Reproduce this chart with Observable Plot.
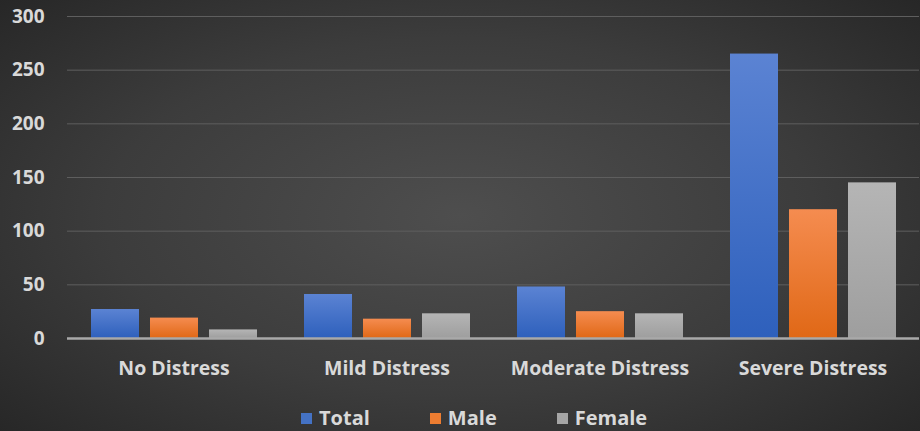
<!DOCTYPE html>
<html>
<head>
<meta charset="utf-8">
<script src="https://cdn.jsdelivr.net/npm/d3@7"></script>
<script src="https://cdn.jsdelivr.net/npm/@observablehq/plot@0.6"></script>
<style>
  html, body { margin: 0; padding: 0; }
  #wrap {
    width: 920px; height: 431px; overflow: hidden; position: relative;
    background: radial-gradient(ellipse 70% 75% at 50% 50%, #4e4e4e 0%, #3c3c3c 55%, #262626 100%);
    font-family: "Open Sans", Lato, sans-serif; font-weight: 700; color: #d9d9d9;
  }
  #legend {
    position: absolute; left: 0; top: 405px; width: 920px; height: 26px; line-height: 26px;
    display: flex; justify-content: flex-start; gap: 60px; font-size: 20px; padding-left: 301px; box-sizing: border-box;
  }
  #legend span.item { display: flex; align-items: center; }
  #legend span.sw { display: inline-block; width: 11px; height: 11px; margin-right: 7px; }
</style>
</head>
<body>
<div id="wrap">
  <div id="chart"></div>
  <div id="legend"></div>
</div>
<script>
const categories = ["No Distress", "Mild Distress", "Moderate Distress", "Severe Distress"];
const series = ["Total", "Male", "Female"];
const totalValues = [27, 41, 48, 265];
const maleValues = [19, 18, 25, 120];
const femaleValues = [8, 23, 23, 145];
const yTicks = [0, 50, 100, 150, 200, 250, 300];
const swatchColors = ["#4472c4", "#ed7d31", "#a5a5a5"];
const gradIds = ["url(#gTotal)", "url(#gMale)", "url(#gFemale)"];

const valuesBySeries = [totalValues, maleValues, femaleValues];
const data = [];
categories.forEach((c, i) => {
  series.forEach((s, j) => data.push({category: c, series: s, value: valuesBySeries[j][i]}));
});

const chart = Plot.plot({
  width: 920,
  height: 395,
  marginTop: 16,
  marginBottom: 57,
  marginLeft: 66,
  marginRight: 0,
  style: {background: "transparent", color: "#d9d9d9", fontFamily: "'Open Sans', Lato, sans-serif", fontWeight: 700, fontSize: "18px"},
  fx: {domain: categories, padding: 0, label: null},
  x: {domain: series, paddingInner: 0.19, paddingOuter: 0.39, axis: null},
  y: {domain: [0, 300], label: null},
  color: {domain: series, range: gradIds},
  marks: [
    Plot.ruleY(yTicks.filter(d => d > 0), {stroke: "#5e5e5e", strokeWidth: 1}),
    Plot.barY(data, {fx: "category", x: "series", y: "value", fill: "series"}),
    Plot.ruleY([0], {stroke: "#a9a9a9", strokeWidth: 2.5}),
    Plot.axisY({ticks: yTicks, tickSize: 0, tickPadding: 23, fontSize: 19, label: null}),
    Plot.axisFx({anchor: "bottom", tickSize: 0, tickPadding: 23, fontSize: 19.5, label: null})
  ]
});

// gradients for bar fills
const defs = document.createElementNS("http://www.w3.org/2000/svg", "defs");
defs.innerHTML = `
  <linearGradient id="gTotal" x1="0" y1="0" x2="0" y2="1"><stop offset="0" stop-color="#5b83d3"/><stop offset="1" stop-color="#2e60bc"/></linearGradient>
  <linearGradient id="gMale" x1="0" y1="0" x2="0" y2="1"><stop offset="0" stop-color="#f58c50"/><stop offset="1" stop-color="#e06816"/></linearGradient>
  <linearGradient id="gFemale" x1="0" y1="0" x2="0" y2="1"><stop offset="0" stop-color="#b5b5b5"/><stop offset="1" stop-color="#9e9e9e"/></linearGradient>`;
chart.insertBefore(defs, chart.firstChild);
document.getElementById("chart").appendChild(chart);

const legend = document.getElementById("legend");
series.forEach((s, i) => {
  const item = document.createElement("span");
  item.className = "item";
  const sw = document.createElement("span");
  sw.className = "sw";
  sw.style.background = swatchColors[i];
  item.appendChild(sw);
  item.appendChild(document.createTextNode(s));
  legend.appendChild(item);
});
</script>
</body>
</html>
